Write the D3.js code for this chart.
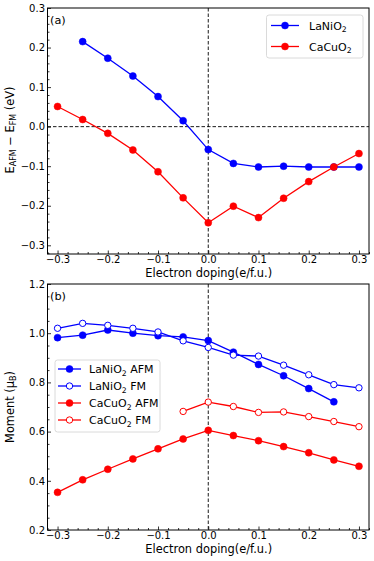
<!DOCTYPE html>
<html><head><meta charset="utf-8">
<script src="https://cdn.jsdelivr.net/npm/d3@7"></script>
<style>body{margin:0;background:#fff}svg{display:block}text{font-family:"DejaVu Sans",sans-serif;fill:#000}</style>
</head><body>
<svg id="c" width="374" height="561"></svg>
<script>
const doping = [-0.3,-0.25,-0.2,-0.15,-0.1,-0.05,0.0,0.05,0.1,0.15,0.2,0.25,0.3];
// Panel (a): E_AFM - E_FM (eV)
const dopingLaNiO2a = [-0.25,-0.2,-0.15,-0.1,-0.05,0.0,0.05,0.1,0.15,0.2,0.25,0.3];
const eLaNiO2 = [0.215,0.173,0.128,0.076,0.015,-0.058,-0.093,-0.102,-0.100,-0.102,-0.102,-0.102];
const eCaCuO2 = [0.051,0.018,-0.017,-0.059,-0.114,-0.180,-0.243,-0.201,-0.230,-0.181,-0.139,-0.102,-0.068];
// Panel (b): moments (mu_B)
const dopingLaNiO2AFM = [-0.3,-0.25,-0.2,-0.15,-0.1,-0.05,0.0,0.05,0.1,0.15,0.2,0.25];
const mLaNiO2AFM = [0.982,0.992,1.013,1.000,0.990,0.985,0.970,0.923,0.873,0.827,0.775,0.721];
const mLaNiO2FM = [1.020,1.040,1.032,1.020,1.005,0.969,0.942,0.911,0.907,0.870,0.831,0.791,0.778];
const mCaCuO2AFM = [0.353,0.404,0.447,0.489,0.530,0.570,0.605,0.584,0.563,0.539,0.514,0.485,0.459];
const dopingCaCuO2FM = [-0.05,0.0,0.05,0.1,0.15,0.2,0.25,0.3];
const mCaCuO2FM = [0.682,0.720,0.702,0.678,0.680,0.661,0.641,0.620];
const xTicks = [-0.3,-0.2,-0.1,0.0,0.1,0.2,0.3];
const yTicksA = [-0.3,-0.2,-0.1,0.0,0.1,0.2,0.3];
const yTicksB = [0.2,0.4,0.6,0.8,1.0,1.2];

const svg = d3.select("#c");
const L = 47.5, R = 369;
const fmt = d => (d < 0 ? "\u2212" : "") + Math.abs(d).toFixed(1);
const x = d3.scaleLinear().domain([-0.32, 0.32]).range([L, R]);

function panel(top, bottom, ydom, yTicks, yMinorStep) {
  const g = svg.append("g");
  const y = d3.scaleLinear().domain(ydom).range([bottom, top]);
  const xMinor = d3.range(-0.32, 0.3201, 0.02).map(v => +v.toFixed(3)).filter(v => !xTicks.some(t => Math.abs(t - v) < 1e-6));
  const yMinor = d3.range(Math.ceil(ydom[0]/yMinorStep)*yMinorStep, ydom[1]+1e-6, yMinorStep).map(v=>+v.toFixed(3)).filter(v => !yTicks.some(t => Math.abs(t - v) < 1e-6));
  const xa = g.append("g").attr("transform", `translate(0,${bottom})`)
    .call(d3.axisBottom(x).tickValues(xTicks).tickFormat(fmt).tickSizeInner(-3.5).tickSizeOuter(0).tickPadding(2));
  const xm = g.append("g").attr("transform", `translate(0,${bottom})`)
    .call(d3.axisBottom(x).tickValues(xMinor).tickFormat("").tickSizeInner(-2).tickSizeOuter(0));
  const ya = g.append("g").attr("transform", `translate(${L},0)`)
    .call(d3.axisLeft(y).tickValues(yTicks).tickFormat(fmt).tickSizeInner(-3.5).tickSizeOuter(0).tickPadding(2.5));
  const ym = g.append("g").attr("transform", `translate(${L},0)`)
    .call(d3.axisLeft(y).tickValues(yMinor).tickFormat("").tickSizeInner(-2).tickSizeOuter(0));
  [xa, xm, ya, ym].forEach(a => { a.select(".domain").remove(); a.selectAll("line").attr("stroke", "#000").attr("stroke-width", 0.8); a.selectAll("text").style("font-size", "10px").style("font-family", "DejaVu Sans"); });
  g.append("rect").attr("x", L).attr("y", top).attr("width", R - L).attr("height", bottom - top)
    .attr("fill", "none").attr("stroke", "#000").attr("stroke-width", 1);
  g.append("line").attr("x1", x(0)).attr("x2", x(0)).attr("y1", top).attr("y2", bottom)
    .attr("stroke", "#000").attr("stroke-width", 0.9).attr("stroke-dasharray", "3.5,2");
  g.append("text").attr("x", (L + R) / 2 + 0.5).attr("y", bottom + 22.5).attr("text-anchor", "middle")
    .style("font-size", "11.4px").text("Electron doping(e/f.u.)");
  return { g, y };
}

function series(g, xs, ys, xsc, ysc, color, filled) {
  const line = d3.line().x((d, i) => xsc(xs[i])).y(d => ysc(d));
  g.append("path").datum(ys).attr("d", line).attr("fill", "none").attr("stroke", color).attr("stroke-width", 1.3);
  g.selectAll(null).data(ys).enter().append("circle")
    .attr("cx", (d, i) => xsc(xs[i])).attr("cy", d => ysc(d)).attr("r", filled ? 3.5 : 3.2)
    .attr("fill", filled ? color : "#fff").attr("stroke", color).attr("stroke-width", filled ? 0.5 : 1);
}

function legend(g, x0, y0, w, h, items, lx0, lx1, tx, rowYs) {
  g.append("rect").attr("x", x0).attr("y", y0).attr("width", w).attr("height", h).attr("rx", 2.5)
    .attr("fill", "#fff").attr("fill-opacity", 0.8).attr("stroke", "#d0d0d0").attr("stroke-width", 0.8);
  items.forEach((it, i) => {
    const yy = rowYs[i];
    g.append("line").attr("x1", lx0).attr("x2", lx1).attr("y1", yy).attr("y2", yy).attr("stroke", it.color).attr("stroke-width", 1.3);
    g.append("circle").attr("cx", (lx0 + lx1) / 2).attr("cy", yy).attr("r", it.filled ? 3.5 : 3.2)
      .attr("fill", it.filled ? it.color : "#fff").attr("stroke", it.color).attr("stroke-width", it.filled ? 0.5 : 1);
    const t = g.append("text").attr("x", tx).attr("y", yy + 4).style("font-size", "11px");
    t.append("tspan").text(it.name);
    t.append("tspan").attr("dy", 2.6).style("font-size", "7.7px").text("2");
    if (it.suffix) t.append("tspan").attr("dy", -2.6).text(" " + it.suffix);
  });
}

// Panel (a)
const A = panel(8, 254, [-0.322, 0.3], yTicksA, 0.02);
A.g.append("line").attr("x1", L).attr("x2", R).attr("y1", A.y(0)).attr("y2", A.y(0))
  .attr("stroke", "#000").attr("stroke-width", 0.9).attr("stroke-dasharray", "3.5,2");
series(A.g, dopingLaNiO2a, eLaNiO2, x, A.y, "#0000ff", true);
series(A.g, doping, eCaCuO2, x, A.y, "#ff0000", true);
A.g.append("text").attr("x", 50).attr("y", 24).style("font-size", "11.3px").text("(a)");
legend(A.g, 266.5, 15, 96.5, 43, [
  { name: "LaNiO", color: "#0000ff", filled: true },
  { name: "CaCuO", color: "#ff0000", filled: true }
], 271, 299, 309, [25.5, 46.5]);
const yla = A.g.append("text").attr("transform", `translate(13.5,130) rotate(-90)`).attr("text-anchor", "middle").style("font-size", "11.4px");
yla.append("tspan").text("E");
yla.append("tspan").attr("dy", 2.7).style("font-size", "8px").text("AFM");
yla.append("tspan").attr("dy", -2.7).text(" \u2212 E");
yla.append("tspan").attr("dy", 2.7).style("font-size", "8px").text("FM");
yla.append("tspan").attr("dy", -2.7).text(" (eV)");

// Panel (b)
const B = panel(284, 530, [0.2, 1.2], yTicksB, 0.05);
series(B.g, dopingLaNiO2AFM, mLaNiO2AFM, x, B.y, "#0000ff", true);
series(B.g, doping, mLaNiO2FM, x, B.y, "#0000ff", false);
series(B.g, doping, mCaCuO2AFM, x, B.y, "#ff0000", true);
series(B.g, dopingCaCuO2FM, mCaCuO2FM, x, B.y, "#ff0000", false);
B.g.append("text").attr("x", 50).attr("y", 300).style("font-size", "11.3px").text("(b)");
legend(B.g, 55, 360, 105, 72, [
  { name: "LaNiO", suffix: "AFM", color: "#0000ff", filled: true },
  { name: "LaNiO", suffix: "FM", color: "#0000ff", filled: false },
  { name: "CaCuO", suffix: "AFM", color: "#ff0000", filled: true },
  { name: "CaCuO", suffix: "FM", color: "#ff0000", filled: false }
], 58, 81, 89, [369, 386, 403, 420]);
const ylb = B.g.append("text").attr("transform", `translate(13.5,407) rotate(-90)`).attr("text-anchor", "middle").style("font-size", "11.4px");
ylb.append("tspan").text("Moment (\u03bc");
ylb.append("tspan").attr("dy", 2.7).style("font-size", "8px").text("B");
ylb.append("tspan").attr("dy", -2.7).text(")");
</script>
</body></html>
